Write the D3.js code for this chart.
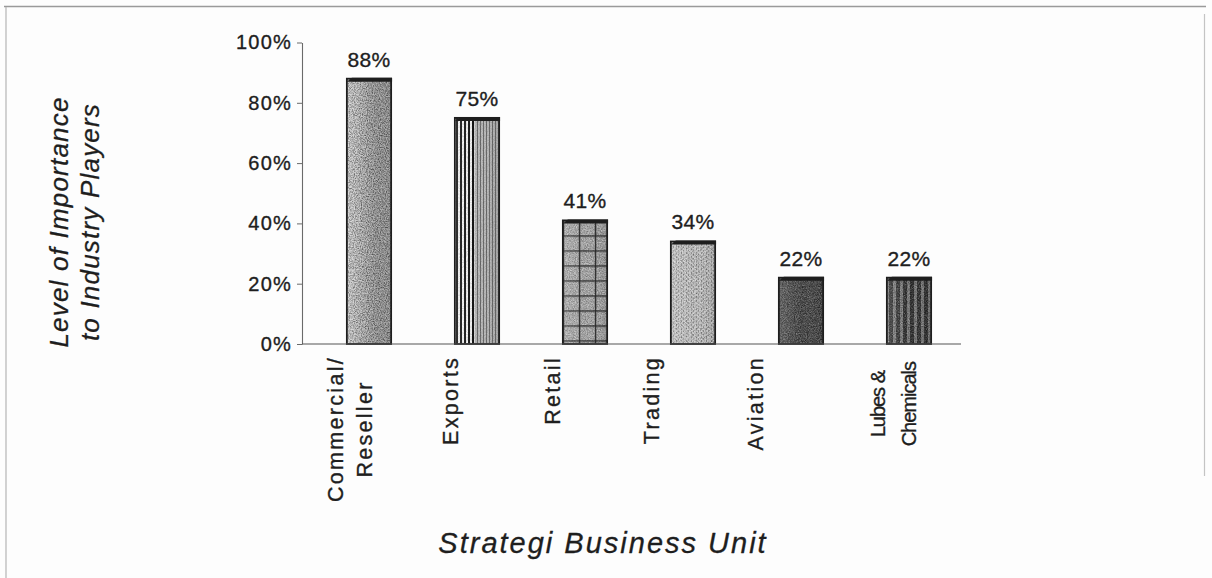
<!DOCTYPE html>
<html>
<head>
<meta charset="utf-8">
<script src="https://cdn.jsdelivr.net/npm/d3@7"></script>
<style>
  html, body { margin: 0; padding: 0; background: #fff; }
  svg { display: block; font-family: "Liberation Sans", Arial, sans-serif; }
  text { stroke-linejoin: round; }
</style>
</head>
<body>
<svg id="chart" width="1212" height="578"></svg>
<script>
// ---- data ----
const categories = ["Commercial/\nReseller", "Exports", "Retail", "Trading", "Aviation", "Lubes &\nChemicals"];
const values = [88, 75, 41, 34, 22, 22];
const valueLabels = ["88%", "75%", "41%", "34%", "22%", "22%"];
const yTicks = [0, 20, 40, 60, 80, 100];
const xTitle = "Strategi Business Unit";
const yTitleLines = ["Level of Importance", "to Industry Players"];

// ---- layout ----
const W = 1212, H = 578;
const svg = d3.select("#chart");
const defs = svg.append("defs");
const ink = "#1e1e1e";
const textInk = (sel, w) => sel.attr("fill", ink).attr("stroke", ink).attr("stroke-width", w);

const x = d3.scaleBand().domain(categories).range([315, 963]).paddingInner(0.59).paddingOuter(0.295);
const y = d3.scaleLinear().domain([0, 100]).range([344, 42.5]);
const axisX = 302;

// page background and frame
svg.append("rect").attr("width", W).attr("height", H).attr("fill", "#fdfdfd");
svg.append("line").attr("x1", 4).attr("x2", 1206).attr("y1", 6.5).attr("y2", 6.5)
  .attr("stroke", "#9a9a9a").attr("stroke-width", 1.3);
svg.append("line").attr("x1", 6).attr("x2", 6).attr("y1", 7).attr("y2", H)
  .attr("stroke", "#b5b5b5").attr("stroke-width", 1.2);
svg.append("line").attr("x1", 1204.5).attr("x2", 1204.5).attr("y1", 14).attr("y2", 476)
  .attr("stroke", "#c4c4c4").attr("stroke-width", 1.2);

// ---- texture definitions ----
function grainFilter(id, rgb, gain, offset, seed, freq) {
  const f = defs.append("filter").attr("id", id)
    .attr("x", 0).attr("y", 0).attr("width", 1).attr("height", 1);
  f.append("feTurbulence").attr("type", "fractalNoise").attr("baseFrequency", freq)
    .attr("numOctaves", 2).attr("seed", seed).attr("stitchTiles", "stitch");
  f.append("feColorMatrix").attr("type", "matrix").attr("values",
    `0 0 0 0 ${rgb}  0 0 0 0 ${rgb}  0 0 0 0 ${rgb}  ${gain} 0 0 0 ${offset}`);
}
grainFilter("grainDark", 0, 2.2, -0.75, 3, 0.85);
grainFilter("grainLight", 1, 2.2, -0.9, 7, 0.9);

const shade = defs.append("linearGradient").attr("id", "shade");
shade.append("stop").attr("offset", 0).attr("stop-color", "#fff").attr("stop-opacity", 0.15);
shade.append("stop").attr("offset", 0.5).attr("stop-color", "#fff").attr("stop-opacity", 0);
shade.append("stop").attr("offset", 1).attr("stop-color", "#000").attr("stop-opacity", 0.1);

const g0 = defs.append("linearGradient").attr("id", "commercialFill");
[[0, "#d2d2d2"], [0.4, "#b8b8b8"], [0.7, "#a0a0a0"], [1, "#aeaeae"]]
  .forEach(([o, c]) => g0.append("stop").attr("offset", o).attr("stop-color", c));

function stripePattern(id, w, bg, fg, lineW) {
  const p = defs.append("pattern").attr("id", id).attr("patternUnits", "userSpaceOnUse")
    .attr("width", w).attr("height", 10);
  p.append("rect").attr("width", w).attr("height", 10).attr("fill", bg);
  p.append("rect").attr("width", lineW).attr("height", 10).attr("fill", fg);
  return p;
}
stripePattern("stripeFine", 3, "#bcbcbc", "#6e6e6e", 1);
stripePattern("stripeBold", 4, "#f4f4f4", "#111", 2);
stripePattern("stripeDark", 7, "#7c7c7c", "#2e2e2e", 4);
const weave = defs.append("pattern").attr("id", "weave").attr("patternUnits", "userSpaceOnUse")
  .attr("width", 5).attr("height", 4);
weave.append("rect").attr("width", 5).attr("height", 4).attr("fill", "#c6c6c6");
weave.append("rect").attr("x", 1).attr("width", 1).attr("height", 2).attr("fill", "#8c8c8c");
weave.append("rect").attr("x", 3).attr("y", 2).attr("width", 1).attr("height", 2).attr("fill", "#9a9a9a");

// ---- bars ----
const bw = x.bandwidth();
const bars = svg.append("g");
categories.forEach((cat, i) => {
  const bx = x(cat), top = y(values[i]), bh = y(0) - top;
  const clipId = "clip" + i;
  defs.append("clipPath").attr("id", clipId)
    .append("rect").attr("x", bx).attr("y", top).attr("width", bw).attr("height", bh);
  const g = bars.append("g").attr("clip-path", `url(#${clipId})`);
  const box = (sel) => sel.attr("x", bx).attr("y", top).attr("width", bw).attr("height", bh);

  if (i === 0) {
    box(g.append("rect")).attr("fill", "url(#commercialFill)");
    box(g.append("rect")).attr("filter", "url(#grainDark)").attr("opacity", 0.55);
    box(g.append("rect")).attr("filter", "url(#grainLight)").attr("opacity", 0.35);
  } else if (i === 1) {
    box(g.append("rect")).attr("fill", "url(#stripeFine)");
    g.append("rect").attr("x", bx).attr("y", top).attr("width", bw * 0.45).attr("height", bh)
      .attr("fill", "url(#stripeBold)");
    box(g.append("rect")).attr("filter", "url(#grainDark)").attr("opacity", 0.15);
  } else if (i === 2) {
    box(g.append("rect")).attr("fill", "#a6a6a6");
    box(g.append("rect")).attr("filter", "url(#grainDark)").attr("opacity", 0.3);
    box(g.append("rect")).attr("filter", "url(#grainLight)").attr("opacity", 0.5);
    const grid = defs.append("pattern").attr("id", "grid" + i).attr("patternUnits", "userSpaceOnUse")
      .attr("x", bx).attr("y", top).attr("width", 16).attr("height", 15);
    grid.append("path").attr("d", "M0,0H16M0,0V15").attr("stroke", "#222").attr("stroke-width", 2.6)
      .attr("fill", "none");
    box(g.append("rect")).attr("fill", `url(#grid${i})`);
  } else if (i === 3) {
    box(g.append("rect")).attr("fill", "url(#weave)");
    box(g.append("rect")).attr("filter", "url(#grainDark)").attr("opacity", 0.3);
    box(g.append("rect")).attr("filter", "url(#grainLight)").attr("opacity", 0.45);
  } else if (i === 4) {
    box(g.append("rect")).attr("fill", "#4e4e4e");
    box(g.append("rect")).attr("filter", "url(#grainDark)").attr("opacity", 0.55);
    box(g.append("rect")).attr("filter", "url(#grainLight)").attr("opacity", 0.3);
  } else {
    box(g.append("rect")).attr("fill", "url(#stripeDark)");
    box(g.append("rect")).attr("filter", "url(#grainDark)").attr("opacity", 0.4);
    box(g.append("rect")).attr("filter", "url(#grainLight)").attr("opacity", 0.3);
  }
  box(g.append("rect")).attr("fill", "url(#shade)");

  bars.append("rect").attr("x", bx).attr("y", top).attr("width", bw).attr("height", bh)
    .attr("fill", "none").attr("stroke", ink).attr("stroke-width", 1.8);
  // thin top face of the column
  bars.append("path")
    .attr("d", `M${bx},${top + 3}L${bx + 5},${top - 1}H${bx + bw + 0.9}V${top + 3}Z`)
    .attr("fill", ink);
});

// ---- axes ----
const yAxis = d3.axisLeft(y).tickValues(yTicks).tickFormat(d => d + "%")
  .tickSize(5).tickSizeOuter(0).tickPadding(5);
const gy = svg.append("g").attr("transform", `translate(${axisX},0)`).call(yAxis);
gy.select(".domain").attr("stroke", "#6a6a6a").attr("stroke-width", 1.1);
gy.selectAll(".tick line").attr("stroke", "#6a6a6a");
textInk(gy.selectAll(".tick text"), 0.35).attr("font-size", 20)
  .attr("font-family", "'Liberation Sans', Arial, sans-serif").attr("letter-spacing", 1.2);

svg.append("line").attr("x1", axisX).attr("x2", x.range()[1] - 2)
  .attr("y1", y(0)).attr("y2", y(0)).attr("stroke", "#555").attr("stroke-width", 1.2);

// ---- value labels ----
textInk(svg.append("g").selectAll("text").data(categories).join("text"), 0.35)
  .attr("x", d => x(d) + bw / 2)
  .attr("y", (d, i) => y(values[i]) - 12)
  .attr("text-anchor", "middle").attr("font-size", 21).attr("letter-spacing", 0.4)
  .text((d, i) => valueLabels[i]);

// ---- category labels (rotated) ----
const labelShift = [-19, -26, -32, -41, -45, -16];
const labelTop = 356, lineGap = 29;
categories.forEach((cat, i) => {
  const lines = cat.split("\n");
  const blockX = x(cat) + bw / 2 + labelShift[i];
  const compact = i === categories.length - 1;
  const texts = lines.map((ln) => textInk(svg.append("text"), 0.35)
    .attr("text-anchor", "middle").attr("dominant-baseline", "central")
    .attr("font-size", compact ? 20 : 21.5).attr("letter-spacing", compact ? -1 : 2.3)
    .text(ln));
  const maxLen = d3.max(texts, t => t.node().getComputedTextLength());
  const cy = labelTop + maxLen / 2 + (compact ? 6 : 0);
  texts.forEach((t, j) => {
    const cx = blockX + (j - (lines.length - 1) / 2) * (compact ? 31 : lineGap);
    t.attr("transform", `translate(${cx},${cy}) rotate(-90)`);
  });
});

// ---- axis titles ----
yTitleLines.forEach((ln, j) => {
  textInk(svg.append("text"), 0.3).attr("transform", `translate(${68 + j * 31},222) rotate(-90)`)
    .attr("text-anchor", "middle").attr("font-size", 26).attr("font-style", "italic")
    .attr("letter-spacing", 1.2).text(ln);
});
textInk(svg.append("text"), 0.3).attr("x", 603).attr("y", 553).attr("text-anchor", "middle")
  .attr("font-size", 29).attr("font-style", "italic").attr("letter-spacing", 2)
  .text(xTitle);
</script>
</body>
</html>
